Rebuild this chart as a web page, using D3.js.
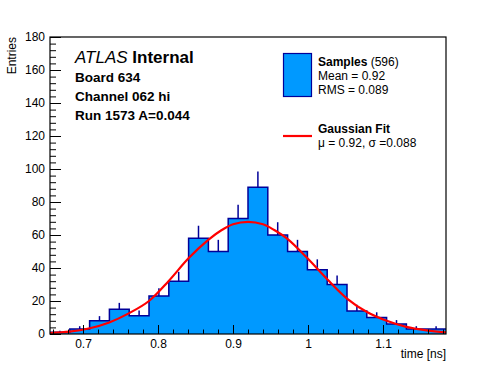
<!DOCTYPE html>
<html>
<head>
<meta charset="utf-8">
<script src="https://cdn.jsdelivr.net/npm/d3@7"></script>
<style>
  body { margin: 0; background: #fff; }
  svg { display: block; font-family: "Liberation Sans", Arial, sans-serif; }
</style>
</head>
<body>
<figure id="chart" style="margin:0"></figure>
<script>
// histogram: 20 bins, time [ns]
const binEdges = [0.656, 0.6824, 0.7088, 0.7352, 0.7616, 0.788, 0.8144, 0.8408, 0.8672, 0.8936, 0.92,
        0.9464, 0.9728, 0.9992, 1.0256, 1.052, 1.0784, 1.1048, 1.1312, 1.1576, 1.184];
const counts = [1, 3, 8, 15, 11, 23, 32, 58, 50, 70, 89, 60, 50, 39, 30, 14, 10, 6, 3, 3];

// gaussian fit curve
const fitX = [0.656, 0.682, 0.709, 0.735, 0.761, 0.788, 0.814, 0.841, 0.867, 0.885, 0.9, 0.92,
        0.94, 0.955, 0.973, 0.999, 1.026, 1.052, 1.078, 1.105, 1.131, 1.158, 1.184];
const fitY = [0.6, 1.4, 3.5, 7, 12.5, 20, 32, 46, 57, 63, 66.5, 68,
        66.5, 63, 57.5, 46, 33, 21.5, 13.5, 8, 4.3, 2.2, 1];

const xTicks = [0.7, 0.8, 0.9, 1.0, 1.1];
const xMinor = [0.66, 0.68, 0.72, 0.74, 0.76, 0.78, 0.82, 0.84, 0.86, 0.88, 0.92, 0.94, 0.96, 0.98,
        1.02, 1.04, 1.06, 1.08, 1.12, 1.14, 1.16, 1.18];
const yTicks = [0, 20, 40, 60, 80, 100, 120, 140, 160, 180];
const yMinor = d3.range(0, 181, 4).filter(v => v % 20 !== 0);

const labelLines = ['Board 634', 'Channel 062 hi', 'Run 1573 A=0.044'];

const dimensions = {
        width: 496,
        height: 372,
        margin: { top: 37, right: 50, bottom: 38, left: 50 },
};
dimensions.boundedWidth = dimensions.width - dimensions.margin.left - dimensions.margin.right;
dimensions.boundedHeight = dimensions.height - dimensions.margin.top - dimensions.margin.bottom;

const svg = d3.select('figure#chart')
        .append('svg')
        .attr('width', dimensions.width)
        .attr('height', dimensions.height);

const xScale = d3.scaleLinear()
        .domain([binEdges[0], binEdges[binEdges.length - 1]])
        .range([dimensions.margin.left, dimensions.margin.left + dimensions.boundedWidth]);
const yScale = d3.scaleLinear()
        .domain([0, 180])
        .range([dimensions.margin.top + dimensions.boundedHeight, dimensions.margin.top]);

const fillColor = '#0099ff';
const lineColor = '#000099';

const bins = counts.map((c, i) => ({ x0: binEdges[i], x1: binEdges[i + 1], n: c }));

// error bars first, the fill covers their lower half
svg.append('g')
        .selectAll('line')
        .data(bins)
        .enter()
        .append('line')
        .attr('x1', d => xScale((d.x0 + d.x1) / 2))
        .attr('x2', d => xScale((d.x0 + d.x1) / 2))
        .attr('y1', d => yScale(Math.max(0, d.n - Math.sqrt(d.n))))
        .attr('y2', d => yScale(d.n + Math.sqrt(d.n)))
        .attr('stroke', lineColor)
        .attr('stroke-width', 1.5);

// step outline
const stepPts = [[xScale(bins[0].x0), yScale(0)]];
bins.forEach(d => {
        stepPts.push([xScale(d.x0), yScale(d.n)]);
        stepPts.push([xScale(d.x1), yScale(d.n)]);
});
stepPts.push([xScale(bins[bins.length - 1].x1), yScale(0)]);

svg.append('path')
        .attr('d', d3.line()(stepPts) + 'Z')
        .attr('fill', fillColor)
        .attr('stroke', 'none');
svg.append('path')
        .attr('d', d3.line()(stepPts.slice(1, -1)))
        .attr('fill', 'none')
        .attr('stroke', lineColor)
        .attr('stroke-width', 1.5);

// fit
svg.append('path')
        .datum(fitX.map((v, i) => [v, fitY[i]]))
        .attr('d', d3.line().x(d => xScale(d[0])).y(d => yScale(d[1])).curve(d3.curveCatmullRom))
        .attr('fill', 'none')
        .attr('stroke', '#ff0000')
        .attr('stroke-width', 2.2);

// axes, ticks pointing inward
const bottom = dimensions.margin.top + dimensions.boundedHeight;
const xAxis = svg.append('g')
        .attr('transform', `translate(0,${bottom})`)
        .call(d3.axisBottom(xScale).tickValues(xTicks).tickSize(-9).tickPadding(5).tickFormat(d3.format('~g')));
svg.append('g')
        .attr('transform', `translate(0,${bottom})`)
        .call(d3.axisBottom(xScale).tickValues(xMinor).tickSize(-4.5).tickFormat(''));

const yAxis = svg.append('g')
        .attr('transform', `translate(${dimensions.margin.left},0)`)
        .call(d3.axisLeft(yScale).tickValues(yTicks).tickSize(-11).tickPadding(5));
svg.append('g')
        .attr('transform', `translate(${dimensions.margin.left},0)`)
        .call(d3.axisLeft(yScale).tickValues(yMinor).tickSize(-6).tickFormat(''));

svg.selectAll('.domain').remove();
svg.selectAll('.tick line').attr('stroke', '#000');
svg.selectAll('.tick text')
        .attr('font-size', 12)
        .attr('font-family', '"Liberation Sans", Arial, sans-serif')
        .attr('fill', '#000');

// frame
svg.append('rect')
        .attr('x', dimensions.margin.left)
        .attr('y', dimensions.margin.top)
        .attr('width', dimensions.boundedWidth)
        .attr('height', dimensions.boundedHeight)
        .attr('fill', 'none')
        .attr('stroke', '#000')
        .attr('stroke-width', 1.2);

// axis titles
svg.append('text')
        .attr('x', dimensions.margin.left + dimensions.boundedWidth)
        .attr('y', 358)
        .attr('text-anchor', 'end')
        .attr('font-size', 12)
        .text('time [ns]');
svg.append('text')
        .attr('transform', `translate(16,${dimensions.margin.top}) rotate(-90)`)
        .attr('text-anchor', 'end')
        .attr('font-size', 12)
        .text('Entries');

// ATLAS label
const atlas = svg.append('text').attr('x', 75).attr('y', 63).attr('font-size', 17);
atlas.append('tspan').attr('font-style', 'italic').text('ATLAS');
atlas.append('tspan').attr('font-weight', 'bold').text(' Internal');

svg.selectAll('.info')
        .data(labelLines)
        .enter()
        .append('text')
        .attr('x', 75)
        .attr('y', (d, i) => 82 + i * 19)
        .attr('font-size', 13.5)
        .attr('font-weight', 'bold')
        .text(d => d);

// legend
svg.append('rect')
        .attr('x', 283.5).attr('y', 53.5)
        .attr('width', 28).attr('height', 43)
        .attr('fill', fillColor)
        .attr('stroke', lineColor)
        .attr('stroke-width', 1.2);
const s = svg.append('text').attr('x', 318).attr('y', 66).attr('font-size', 12);
s.append('tspan').attr('font-weight', 'bold').text('Samples');
s.append('tspan').text(' (596)');
svg.append('text').attr('x', 318).attr('y', 80).attr('font-size', 12).text('Mean = 0.92');
svg.append('text').attr('x', 318).attr('y', 94).attr('font-size', 12).text('RMS = 0.089');

svg.append('line')
        .attr('x1', 283).attr('x2', 312)
        .attr('y1', 136).attr('y2', 136)
        .attr('stroke', '#ff0000')
        .attr('stroke-width', 2.2);
svg.append('text').attr('x', 318).attr('y', 133).attr('font-size', 12).attr('font-weight', 'bold').text('Gaussian Fit');
svg.append('text').attr('x', 318).attr('y', 147).attr('font-size', 12).text('μ = 0.92, σ =0.088');
</script>
</body>
</html>
